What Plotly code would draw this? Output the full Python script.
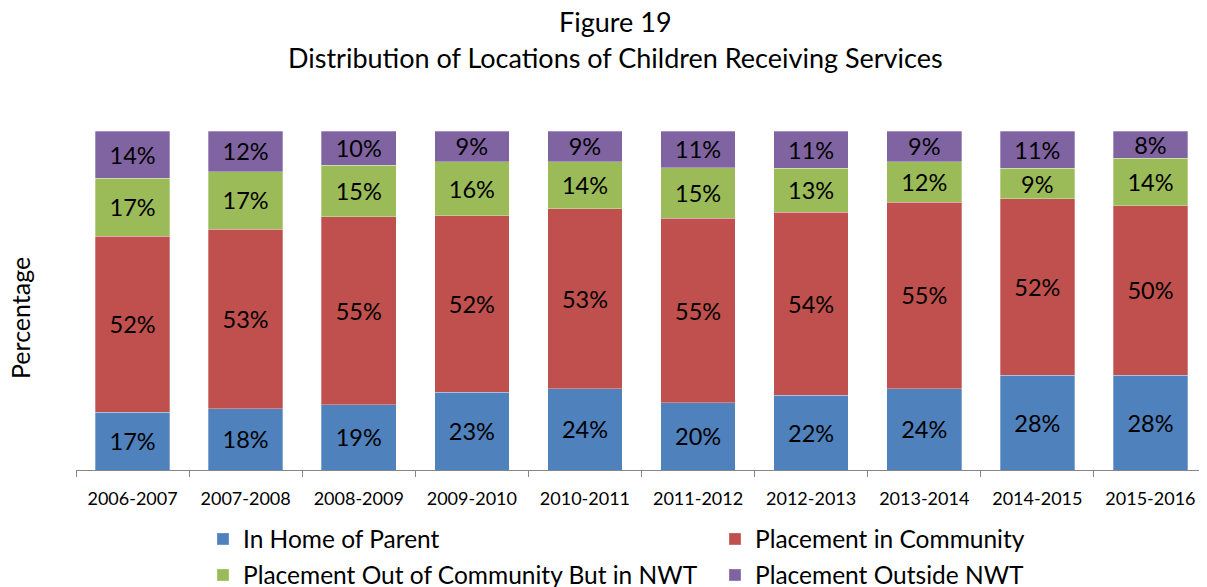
import plotly.graph_objects as go

years = ["2006-2007", "2007-2008", "2008-2009", "2009-2010", "2010-2011",
         "2011-2012", "2012-2013", "2013-2014", "2014-2015", "2015-2016"]
home_of_parent = [17, 18, 19, 23, 24, 20, 22, 24, 28, 28]
in_community = [52, 53, 55, 52, 53, 55, 54, 55, 52, 50]
out_of_community_nwt = [17, 17, 15, 16, 14, 15, 13, 12, 9, 14]
outside_nwt = [14, 12, 10, 9, 9, 11, 11, 9, 11, 8]

series = [
    ("In Home of Parent", home_of_parent, "#4F81BD", "legend"),
    ("Placement in Community", in_community, "#C0504D", "legend"),
    ("Placement Out of Community But in NWT", out_of_community_nwt, "#9BBB59", "legend2"),
    ("Placement Outside NWT", outside_nwt, "#8064A2", "legend2"),
]

FONT = "Lato, Calibri, Carlito, sans-serif"

fig = go.Figure()
for name, vals, color, lg in series:
    fig.add_trace(go.Bar(
        x=years, y=vals, name=name, legend=lg,
        marker=dict(color=color, line=dict(color="rgba(255,255,255,0.6)", width=0.5)),
        text=[f"{v}%" for v in vals],
        textposition="inside", insidetextanchor="middle", constraintext="none",
        textfont=dict(family=FONT, size=23.5, color="black"),
        hoverinfo="skip",
    ))

# page body offsets the figure by 8px; figure coords = render coords - 8
W, H = 1199, 579
ml, mr, mt, mb = 68, 0, 123, 117
pw = W - ml - mr
ph = H - mt - mb
OFF = 8


def px_x(rx):
    return (rx - OFF - ml) / pw


def px_y(ry):
    return (H - mb - (ry - OFF)) / ph


legend_common = dict(
    orientation="h", xanchor="left", yanchor="middle",
    font=dict(size=24.5, family=FONT),
    entrywidth=467, entrywidthmode="pixels",
    traceorder="normal", itemclick=False, itemdoubleclick=False,
    bgcolor="rgba(0,0,0,0)",
)

fig.update_layout(
    width=W, height=H,
    barmode="stack", barnorm="percent", bargap=0.34,
    plot_bgcolor="white", paper_bgcolor="white",
    margin=dict(l=ml, r=mr, t=mt, b=mb, autoexpand=False),
    font=dict(family=FONT, color="black"),
    showlegend=True,
    uniformtext=dict(mode=False),
    legend=dict(x=px_x(203), y=px_y(539), **legend_common),
    legend2=dict(x=px_x(203), y=px_y(575), **legend_common),
    xaxis=dict(
        showline=True, linecolor="#868686", linewidth=1,
        ticks="outside", tickson="boundaries", ticklen=6, tickcolor="#868686",
        tickfont=dict(size=18, family=FONT), tickangle=0, showgrid=False,
        ticklabelstandoff=12,
    ),
    yaxis=dict(range=[0, 100], showticklabels=False, showgrid=False,
               zeroline=False, showline=False, ticks=""),
    annotations=[
        dict(text="Figure 19",
             xref="paper", yref="paper", x=px_x(615), y=px_y(21),
             xanchor="center", yanchor="middle", showarrow=False,
             font=dict(size=27, family=FONT)),
        dict(text="Distribution of Locations of Children Receiving Services",
             xref="paper", yref="paper", x=px_x(615), y=px_y(58),
             xanchor="center", yanchor="middle", showarrow=False,
             font=dict(size=27, family=FONT)),
        dict(text="Percentage", textangle=-90,
             xref="paper", yref="paper", x=px_x(20), y=px_y(318),
             xanchor="center", yanchor="middle", showarrow=False,
             font=dict(size=25, family=FONT)),
    ],
)

fig.write_html("out.html")
